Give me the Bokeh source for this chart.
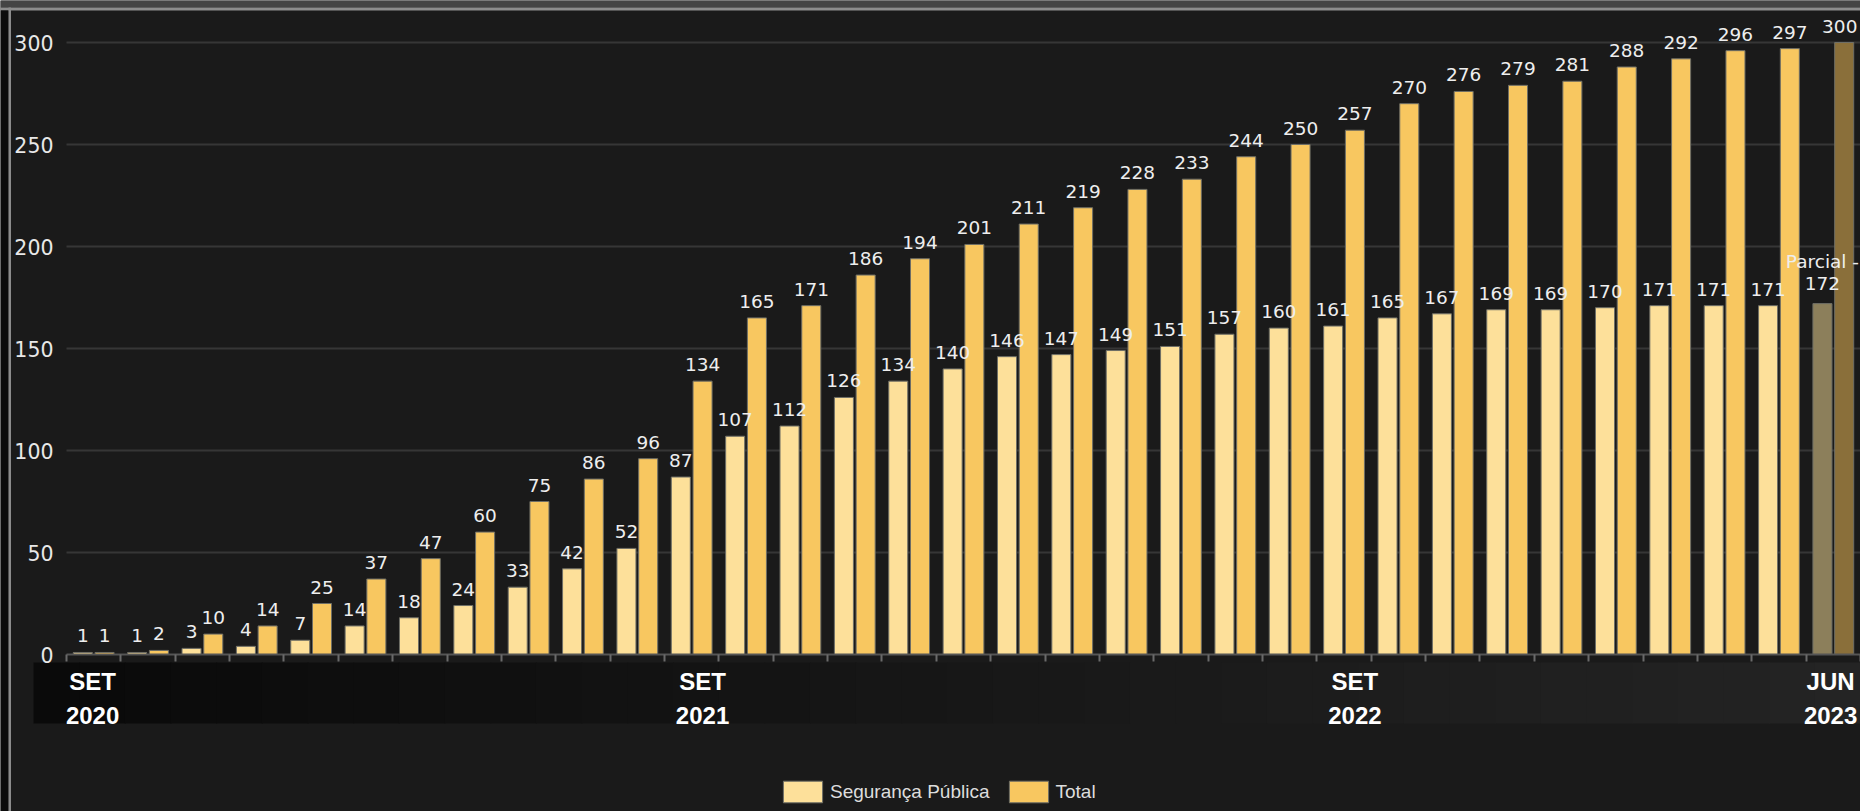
from bokeh.plotting import figure
from bokeh.models import (ColumnDataSource, Range1d, FixedTicker, BoxAnnotation,
                          Legend, LegendItem)
from bokeh.core.properties import value
from bokeh.embed import file_html
from bokeh.resources import INLINE
import numpy as np

# ---------------- data ----------------
months = ["OUT 2020", "NOV 2020", "DEZ 2020",
          "JAN 2021", "FEV 2021", "MAR 2021", "ABR 2021", "MAI 2021", "JUN 2021",
          "JUL 2021", "AGO 2021", "SET 2021", "OUT 2021", "NOV 2021", "DEZ 2021",
          "JAN 2022", "FEV 2022", "MAR 2022", "ABR 2022", "MAI 2022", "JUN 2022",
          "JUL 2022", "AGO 2022", "SET 2022", "OUT 2022", "NOV 2022", "DEZ 2022",
          "JAN 2023", "FEV 2023", "MAR 2023", "ABR 2023", "MAI 2023", "JUN 2023"]
seguranca = [1, 1, 3, 4, 7, 14, 18, 24, 33, 42, 52, 87, 107, 112, 126, 134, 140,
             146, 147, 149, 151, 157, 160, 161, 165, 167, 169, 169, 170, 171, 171,
             171, 172]
total = [1, 2, 10, 14, 25, 37, 47, 60, 75, 86, 96, 134, 165, 171, 186, 194, 201,
         211, 219, 228, 233, 244, 250, 257, 270, 276, 279, 281, 288, 292, 296,
         297, 300]
axis_labels = ["SET 2020", "SET 2021", "SET 2022", "JUN 2023"]
y_ticks = [0, 50, 100, 150, 200, 250, 300]
partial_month = "JUN 2023"
partial_prefix = "Parcial -"
series_names = ["Segurança Pública", "Total"]

# ---------------- styling ----------------
BG = "#1a1a1a"
C_LIGHT = "#fde09a"
C_DARK = "#f8c760"
C_LIGHT_DIM = "#8c7f5b"
C_DARK_DIM = "#8a6f3a"
LABEL_FONT = "DejaVu Sans"
LABEL_SIZE = 18.5

W, H = 1860, 811
n = len(months)
# page-pixel anchors: category 0 starts at x=66, value 0 at y=654, 300 at y=42
X0, Y0, Y300 = 66, 654, 42
px_x = (W - X0) / n
px_y = (Y0 - Y300) / 300.0


def dx(page_x):
    return (page_x - X0) / px_x


def dy(page_y):
    return (Y0 - page_y) / px_y


def keep_inside(xs, labels):
    # small leftward nudge for numeric labels that would run past the right edge
    out = []
    for x, lab in zip(xs, labels):
        half = len(lab) * 0.64 * LABEL_SIZE / 2
        right = X0 + x * px_x + half
        out.append(min(0.0, (W - 3) - right))
    return out


idx = np.arange(n)
is_partial = [m == partial_month for m in months]
xl = idx + 0.5 - 0.2
xd = idx + 0.5 + 0.2
lab_l = [(partial_prefix + "\n" + str(v)) if p else str(v)
         for v, p in zip(seguranca, is_partial)]
lab_d = [str(v) for v in total]
src_l = ColumnDataSource(dict(
    x=xl, top=seguranca,
    color=[C_LIGHT_DIM if p else C_LIGHT for p in is_partial],
    label=lab_l, xo=[0.0] * n))
src_d = ColumnDataSource(dict(
    x=xd, top=total,
    color=[C_DARK_DIM if p else C_DARK for p in is_partial],
    label=lab_d, xo=keep_inside(xd, lab_d)))

p = figure(width=W, height=H, output_backend="svg", toolbar_location=None,
           x_range=Range1d(dx(0), dx(W)), y_range=Range1d(dy(H), dy(0)),
           min_border=0, min_border_left=0, min_border_right=0,
           min_border_top=0, min_border_bottom=0)
p.background_fill_color = BG
p.border_fill_color = BG
p.outline_line_color = None
p.xgrid.visible = False
p.ygrid.visible = False


def box(l, r, t, b, color):
    p.add_layout(BoxAnnotation(left=dx(l), right=dx(r), top=dy(t), bottom=dy(b),
                               fill_color=color, fill_alpha=1, line_color=None,
                               level="underlay"))


# page chrome: top strip, left strip
box(0, W, 0, 7, "#444444")
box(0, W, 7, 10, "#8c8c8c")
box(0, 8, 10, H, "#0c0c0c")
box(8, 10.5, 7, H, "#8c8c8c")

# band behind the x labels (gradient approximation)
n_sl = 40
c0, c1 = np.array([10, 10, 10]), np.array([36, 36, 36])
for i in range(n_sl):
    t = i / (n_sl - 1)
    c = (c0 + (c1 - c0) * t).astype(int)
    l = 33 + (W - 33) * i / n_sl
    r = 33 + (W - 33) * (i + 1) / n_sl + 1
    box(l, r, 662, 723, "#%02x%02x%02x" % tuple(c))

# grid lines
p.segment(x0=0, x1=n, y0=y_ticks[1:], y1=y_ticks[1:], line_color="#363636",
          line_width=2)

r_l = p.vbar(x="x", top="top", width=0.35, source=src_l, fill_color="color",
             line_color="#6e6e66", line_width=1)
r_d = p.vbar(x="x", top="top", width=0.35, source=src_d, fill_color="color",
             line_color="#6e6e66", line_width=1)

for src in (src_l, src_d):
    p.text(x="x", y="top", text="label", source=src, text_align="center",
           text_baseline="bottom", x_offset="xo", y_offset=-10,
           text_color="#eeeeee", text_font=value(LABEL_FONT),
           text_font_size="%spx" % LABEL_SIZE, text_line_height=1.05)

# y axis drawn at the left edge of the categories
ya = p.yaxis[0]
ya.fixed_location = 0
ya.ticker = FixedTicker(ticks=y_ticks)
ya.axis_line_color = None
ya.major_tick_line_color = None
ya.minor_tick_line_color = None
ya.major_tick_out = 0
ya.major_tick_in = 0
ya.minor_tick_out = 0
ya.minor_tick_in = 0
ya.major_label_standoff = 13
ya.major_label_text_font = LABEL_FONT
ya.major_label_text_font_size = "20.5px"
ya.major_label_text_color = "#e8e8e8"

# x axis at value 0: minor ticks at month boundaries, labelled majors
label_pos = []
for lab in axis_labels:
    i = months.index(lab) if lab in months else -1
    label_pos.append(min(max(i + 0.7, 0.48), n - 0.55))
xa = p.xaxis[0]
xa.fixed_location = 0
xa.bounds = (0, n)
xa.ticker = FixedTicker(ticks=label_pos, minor_ticks=list(range(0, n + 1)))
xa.major_label_overrides = {pos: lab.replace(" ", "\n")
                            for pos, lab in zip(label_pos, axis_labels)}
xa.major_tick_out = 0
xa.major_tick_in = 0
xa.minor_tick_out = 7
xa.minor_tick_in = 0
xa.minor_tick_line_color = "#6a6a6a"
xa.minor_tick_line_width = 2
xa.axis_line_color = "#555555"
xa.axis_line_width = 2
xa.major_label_standoff = 6
xa.major_label_text_font = "Liberation Sans"
xa.major_label_text_font_style = "bold"
xa.major_label_text_font_size = "24px"
xa.major_label_text_color = "#ffffff"
xa.major_label_text_line_height = 1.28

legend = Legend(items=[LegendItem(label=series_names[0], renderers=[r_l]),
                       LegendItem(label=series_names[1], renderers=[r_d])],
                orientation="horizontal", location=(778, H - 805),
                glyph_width=49, glyph_height=27, label_standoff=3, spacing=14,
                padding=0, margin=0, background_fill_alpha=0,
                border_line_color=None, label_text_font="Liberation Sans",
                label_text_font_size="19px", label_text_color="#dddddd")
p.add_layout(legend, "center")

open("out.html", "w").write(file_html(p, INLINE))
